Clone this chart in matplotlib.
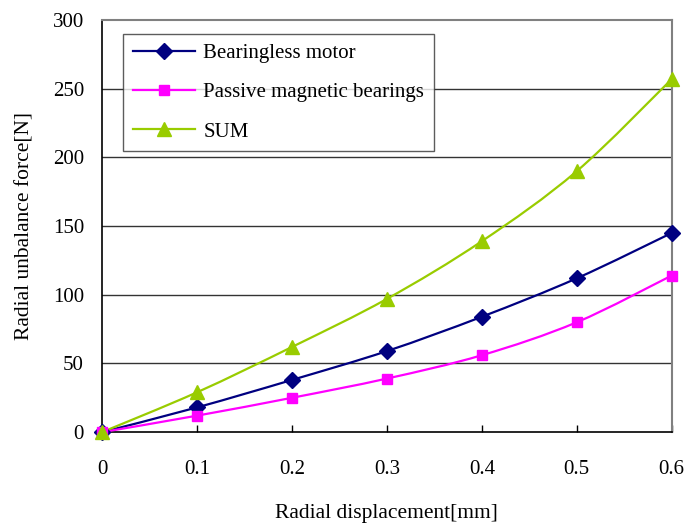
import numpy as np
import matplotlib
matplotlib.use('Agg')
import matplotlib.pyplot as plt
from matplotlib.path import Path
from matplotlib.patches import PathPatch
from matplotlib.lines import Line2D

# ===================== DATA =====================
disp = [0, 0.1, 0.2, 0.3, 0.4, 0.5, 0.6]
bearingless = [0, 18, 38, 59, 84, 112, 145]
passive = [0, 12, 25, 39, 56, 80, 114]
total = [0, 29, 62, 97, 139, 190, 257]

labels = ['Bearingless motor', 'Passive magnetic bearings', 'SUM']
colors = ['#000080', '#FF00FF', '#99CC00']
markers = ['D', 's', '^']
msizes = [8, 7.5, 10]

plt.rcParams['font.family'] = ['Liberation Serif', 'DejaVu Serif']


def smooth_path(xs, ys, t=1 / 6):
    # Excel style smoothed line: bezier segments with catmull-rom controls
    pts = np.column_stack([xs, ys]).astype(float)
    verts = [pts[0]]
    codes = [Path.MOVETO]
    n = len(pts)
    for i in range(n - 1):
        p0 = pts[i - 1] if i > 0 else pts[i]
        p1 = pts[i]
        p2 = pts[i + 1]
        p3 = pts[i + 2] if i + 2 < n else pts[i + 1]
        c1 = p1 + (p2 - p0) * t
        c2 = p2 - (p3 - p1) * t
        verts += [c1, c2, p2]
        codes += [Path.CURVE4] * 3
    return Path(verts, codes)


fig = plt.figure(figsize=(6.99, 5.27), dpi=100)
ax = fig.add_axes([0.146, 0.180, 0.815, 0.782])

series = [bearingless, passive, total]
handles = []
for ys, c, m, ms, lab in zip(series, colors, markers, msizes, labels):
    patch = PathPatch(smooth_path(disp, ys), fill=False, edgecolor=c, lw=1.6, zorder=3)
    ax.add_patch(patch)
    ax.plot(disp, ys, linestyle='none', marker=m, color=c, ms=ms, zorder=4, clip_on=False)
    handles.append(Line2D([], [], color=c, lw=1.6, marker=m, ms=ms))

ax.set_xlim(0, 0.6)
ax.set_ylim(0, 300)
ax.set_xticks(disp)
ax.set_xticklabels(['0', '0.1', '0.2', '0.3', '0.4', '0.5', '0.6'])
ax.set_yticks(np.arange(0, 301, 50))

for yv in range(50, 300, 50):
    ax.axhline(yv, color='#333333', lw=1.0, zorder=1)

for s in ['top', 'right']:
    ax.spines[s].set_color('#808080')
    ax.spines[s].set_linewidth(1.5)
for s in ['left', 'bottom']:
    ax.spines[s].set_color('black')
    ax.spines[s].set_linewidth(1.2)

ax.tick_params(axis='x', direction='in', length=5, width=1.0, pad=20, labelsize=15)
ax.tick_params(axis='y', direction='out', length=0, pad=13, labelsize=15)

ax.set_xlabel('Radial displacement[mm]', fontsize=15.5, labelpad=18)
ax.set_ylabel('Radial unbalance force[N]', fontsize=15.5, labelpad=13)

leg = ax.legend(handles, labels, loc='upper left', bbox_to_anchor=(0.037, 0.966),
                fontsize=15, frameon=True, fancybox=False, edgecolor='#333333',
                handlelength=3.0, labelspacing=0.95, borderpad=0.45, handletextpad=0.4,
                borderaxespad=0)
leg.get_frame().set_linewidth(1.0)

fig.savefig('out.png', dpi=100)
